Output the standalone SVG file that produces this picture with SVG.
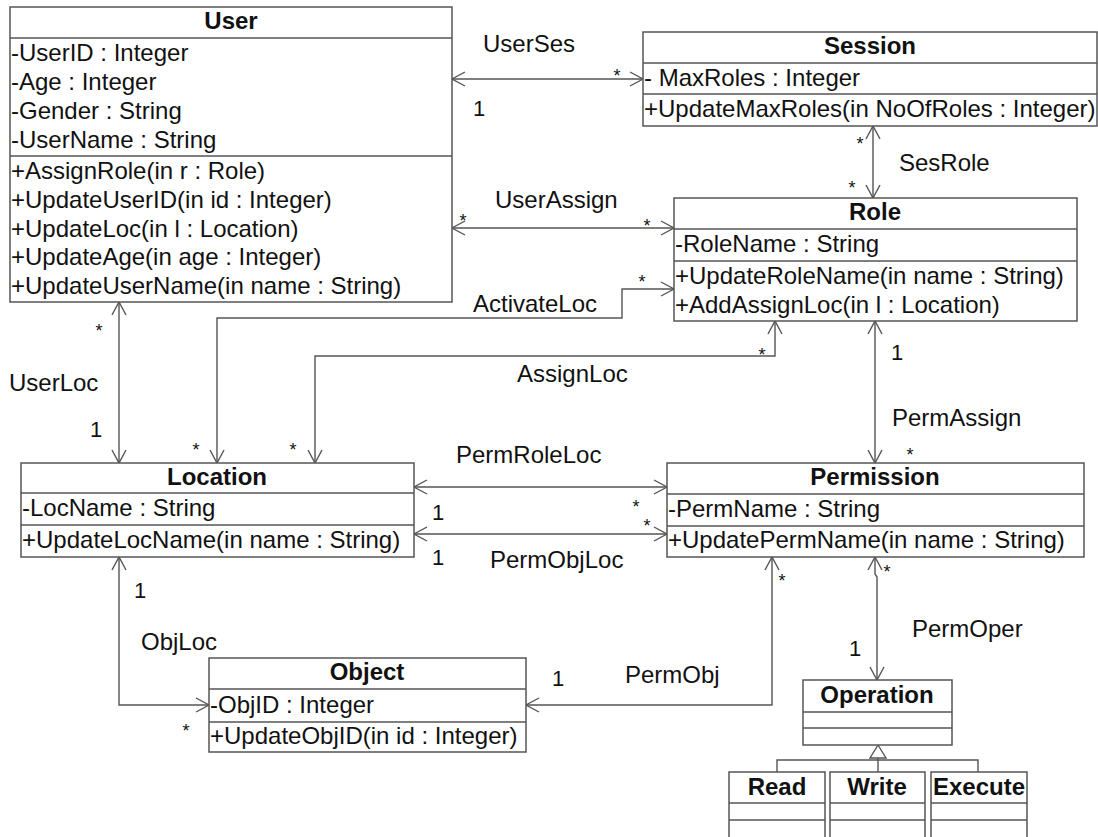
<svg xmlns="http://www.w3.org/2000/svg" width="1098" height="837" viewBox="0 0 1098 837">
  <style>
    .box { fill: #ffffff; stroke: #555555; stroke-width: 1.5; }
    .div { stroke: #555555; stroke-width: 1.5; }
    .title { font-family: "Liberation Sans", Arial, sans-serif; font-size: 24px; font-weight: bold; fill: #111111; text-anchor: middle; }
    .member { font-family: "Liberation Sans", Arial, sans-serif; font-size: 24px; fill: #111111; }
    .label { font-family: "Liberation Sans", Arial, sans-serif; font-size: 24px; fill: #111111; }
    .one { font-family: "Liberation Sans", Arial, sans-serif; font-size: 22px; fill: #111111; text-anchor: middle; }
    .many { font-family: "Liberation Sans", Arial, sans-serif; font-size: 18px; fill: #111111; text-anchor: middle; }
    .assoc { fill: none; stroke: #555555; stroke-width: 1.4; marker-start: url(#open); marker-end: url(#open); }
    .gen { fill: none; stroke: #555555; stroke-width: 1.4; }
  </style>
  <defs>
    <marker id="open" viewBox="-15 -9 17 18" refX="0" refY="0" markerWidth="17" markerHeight="18" markerUnits="userSpaceOnUse" orient="auto-start-reverse">
      <path d="M-13,-7 L0,0 L-13,7" fill="none" stroke="#555555" stroke-width="1.4"/>
    </marker>
  </defs>

  <rect width="1098" height="837" fill="#ffffff"/>

  <!-- associations -->
  <g id="connectors">
    <path class="assoc" d="M452,79 H643"/>
    <path class="assoc" d="M873,126 V198"/>
    <path class="assoc" d="M452,228 H674"/>
    <path class="assoc" d="M217,463 V318 H622 V289 H674"/>
    <path class="assoc" d="M119,302 V463"/>
    <path class="assoc" d="M315,463 V356 H775 V321"/>
    <path class="assoc" d="M875,321 V463"/>
    <path class="assoc" d="M414,487 H667"/>
    <path class="assoc" d="M414,534 H667"/>
    <path class="assoc" d="M119,557 V705 H209"/>
    <path class="assoc" d="M772,557 V705 H526"/>
    <path class="assoc" d="M875,557 V574 L877,577 V680"/>
    <!-- generalization of Operation -->
    <path class="gen" d="M878,745 L886,758 H870 Z" fill="#ffffff"/>
    <path class="gen" d="M878,758 V772 M777,772 V760 H978 V772"/>

    <!-- association names -->
    <text class="label" x="483" y="52">UserSes</text>
    <text class="label" x="899" y="171">SesRole</text>
    <text class="label" x="495" y="208">UserAssign</text>
    <text class="label" x="473" y="312">ActivateLoc</text>
    <text class="label" x="9" y="391">UserLoc</text>
    <text class="label" x="517" y="382">AssignLoc</text>
    <text class="label" x="892" y="426">PermAssign</text>
    <text class="label" x="456" y="463">PermRoleLoc</text>
    <text class="label" x="490" y="568">PermObjLoc</text>
    <text class="label" x="141" y="650">ObjLoc</text>
    <text class="label" x="625" y="683">PermObj</text>
    <text class="label" x="912" y="637">PermOper</text>

    <!-- multiplicities -->
    <text class="many" x="617" y="82">*</text>
    <text class="many" x="860" y="150">*</text>
    <text class="many" x="852" y="194">*</text>
    <text class="many" x="463" y="227">*</text>
    <text class="many" x="647" y="232">*</text>
    <text class="many" x="642" y="288">*</text>
    <text class="many" x="99" y="337">*</text>
    <text class="many" x="762" y="361">*</text>
    <text class="many" x="196" y="456">*</text>
    <text class="many" x="293" y="456">*</text>
    <text class="many" x="910" y="461">*</text>
    <text class="many" x="636" y="513">*</text>
    <text class="many" x="647" y="532">*</text>
    <text class="many" x="782" y="587">*</text>
    <text class="many" x="887" y="578">*</text>
    <text class="many" x="186" y="737">*</text>

    <text class="one" x="479" y="116">1</text>
    <text class="one" x="96" y="437">1</text>
    <text class="one" x="897" y="360">1</text>
    <text class="one" x="438" y="520">1</text>
    <text class="one" x="438" y="565">1</text>
    <text class="one" x="140" y="598">1</text>
    <text class="one" x="558" y="686">1</text>
    <text class="one" x="855" y="656">1</text>
  </g>

  <g id="user">
    <rect class="box" x="10" y="7" width="442" height="295"/>
    <line class="div" x1="10" y1="38" x2="452" y2="38"/>
    <line class="div" x1="10" y1="156" x2="452" y2="156"/>
    <text class="title" x="231" y="29">User</text>
    <text class="member" x="11" y="61">-UserID : Integer</text>
    <text class="member" x="11" y="90">-Age : Integer</text>
    <text class="member" x="11" y="119">-Gender : String</text>
    <text class="member" x="11" y="148">-UserName : String</text>
    <text class="member" x="11" y="179">+AssignRole(in r : Role)</text>
    <text class="member" x="11" y="208">+UpdateUserID(in id : Integer)</text>
    <text class="member" x="11" y="237">+UpdateLoc(in l : Location)</text>
    <text class="member" x="11" y="265">+UpdateAge(in age : Integer)</text>
    <text class="member" x="11" y="294">+UpdateUserName(in name : String)</text>
  </g>

  <g id="session">
    <rect class="box" x="643" y="32" width="454" height="94"/>
    <line class="div" x1="643" y1="63" x2="1097" y2="63"/>
    <line class="div" x1="643" y1="94" x2="1097" y2="94"/>
    <text class="title" x="870" y="54">Session</text>
    <text class="member" x="644" y="86">- MaxRoles : Integer</text>
    <text class="member" x="644" y="117">+UpdateMaxRoles(in NoOfRoles : Integer)</text>
  </g>

  <g id="role">
    <rect class="box" x="674" y="198" width="403" height="123"/>
    <line class="div" x1="674" y1="229" x2="1077" y2="229"/>
    <line class="div" x1="674" y1="261" x2="1077" y2="261"/>
    <text class="title" x="875" y="220">Role</text>
    <text class="member" x="675" y="252">-RoleName : String</text>
    <text class="member" x="675" y="284">+UpdateRoleName(in name : String)</text>
    <text class="member" x="675" y="313">+AddAssignLoc(in l : Location)</text>
  </g>

  <g id="location">
    <rect class="box" x="21" y="463" width="393" height="94"/>
    <line class="div" x1="21" y1="493" x2="414" y2="493"/>
    <line class="div" x1="21" y1="525" x2="414" y2="525"/>
    <text class="title" x="217" y="485">Location</text>
    <text class="member" x="22" y="516">-LocName : String</text>
    <text class="member" x="22" y="548">+UpdateLocName(in name : String)</text>
  </g>

  <g id="permission">
    <rect class="box" x="667" y="463" width="417" height="94"/>
    <line class="div" x1="667" y1="494" x2="1084" y2="494"/>
    <line class="div" x1="667" y1="526" x2="1084" y2="526"/>
    <text class="title" x="875" y="485">Permission</text>
    <text class="member" x="668" y="517">-PermName : String</text>
    <text class="member" x="668" y="548">+UpdatePermName(in name : String)</text>
  </g>

  <g id="object">
    <rect class="box" x="209" y="658" width="317" height="94"/>
    <line class="div" x1="209" y1="689" x2="526" y2="689"/>
    <line class="div" x1="209" y1="722" x2="526" y2="722"/>
    <text class="title" x="367" y="680">Object</text>
    <text class="member" x="210" y="713">-ObjID : Integer</text>
    <text class="member" x="210" y="744">+UpdateObjID(in id : Integer)</text>
  </g>

  <g id="operation">
    <rect class="box" x="803" y="680" width="149" height="65"/>
    <line class="div" x1="803" y1="712" x2="952" y2="712"/>
    <line class="div" x1="803" y1="728" x2="952" y2="728"/>
    <text class="title" x="877" y="703">Operation</text>
  </g>

  <g id="read">
    <rect class="box" x="729" y="772" width="96" height="75"/>
    <line class="div" x1="729" y1="803" x2="825" y2="803"/>
    <line class="div" x1="729" y1="820" x2="825" y2="820"/>
    <text class="title" x="777" y="795">Read</text>
  </g>

  <g id="write">
    <rect class="box" x="830" y="772" width="95" height="75"/>
    <line class="div" x1="830" y1="803" x2="925" y2="803"/>
    <line class="div" x1="830" y1="820" x2="925" y2="820"/>
    <text class="title" x="877" y="795">Write</text>
  </g>

  <g id="execute">
    <rect class="box" x="931" y="772" width="96" height="75"/>
    <line class="div" x1="931" y1="803" x2="1027" y2="803"/>
    <line class="div" x1="931" y1="820" x2="1027" y2="820"/>
    <text class="title" x="979" y="795">Execute</text>
  </g>
</svg>
